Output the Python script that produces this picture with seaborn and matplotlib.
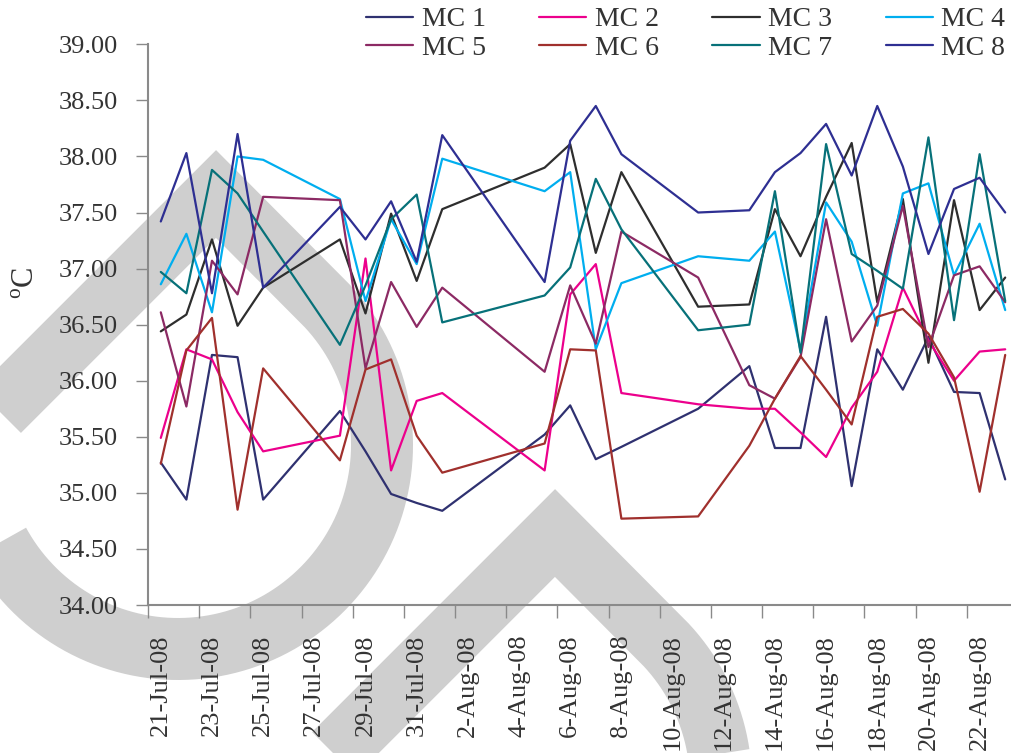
import matplotlib
matplotlib.use("Agg")
import numpy as np
import pandas as pd
import seaborn as sns
import matplotlib.pyplot as plt
import matplotlib.dates as mdates
from matplotlib.lines import Line2D
from matplotlib.ticker import FixedLocator, FixedFormatter, NullFormatter
from datetime import datetime, timedelta

# ---- data -------------------------------------------------------------
dates = ["2008-07-21", "2008-07-22", "2008-07-23", "2008-07-24", "2008-07-25",
         "2008-07-28", "2008-07-29", "2008-07-30", "2008-07-31", "2008-08-01",
         "2008-08-05", "2008-08-06", "2008-08-07", "2008-08-08", "2008-08-11",
         "2008-08-13", "2008-08-14", "2008-08-15", "2008-08-16", "2008-08-17",
         "2008-08-18", "2008-08-19", "2008-08-20", "2008-08-21", "2008-08-22",
         "2008-08-23"]

mc1 = [35.27, 34.94, 36.23, 36.21, 34.94, 35.73, 35.37, 34.99, 34.91, 34.84,
       35.52, 35.78, 35.30, 35.41, 35.75, 36.13, 35.40, 35.40, 36.57, 35.06,
       36.28, 35.92, 36.39, 35.90, 35.89, 35.12]
mc2 = [35.49, 36.28, 36.19, 35.72, 35.37, 35.51, 37.09, 35.20, 35.82, 35.89,
       35.20, 36.77, 37.04, 35.89, 35.79, 35.75, 35.75, 35.54, 35.32, 35.76,
       36.08, 36.83, 36.36, 36.00, 36.26, 36.28]
mc3 = [36.44, 36.59, 37.26, 36.49, 36.83, 37.26, 36.60, 37.49, 36.89, 37.53,
       37.90, 38.11, 37.14, 37.86, 36.66, 36.68, 37.53, 37.11, 37.64, 38.12,
       36.70, 37.62, 36.16, 37.61, 36.63, 36.92]
mc4 = [36.86, 37.31, 36.61, 38.00, 37.97, 37.62, 36.71, 37.44, 37.04, 37.98,
       37.69, 37.86, 36.28, 36.87, 37.11, 37.07, 37.33, 36.27, 37.59, 37.24,
       36.49, 37.67, 37.76, 36.94, 37.40, 36.63]
mc5 = [36.61, 35.77, 37.07, 36.77, 37.64, 37.61, 36.11, 36.88, 36.48, 36.83,
       36.08, 36.85, 36.33, 37.33, 36.92, 35.96, 35.84, 36.21, 37.44, 36.35,
       36.67, 37.56, 36.30, 36.94, 37.02, 36.70]
mc6 = [35.26, 36.27, 36.56, 34.85, 36.11, 35.29, 36.10, 36.19, 35.51, 35.18,
       35.44, 36.28, 36.27, 34.77, 34.79, 35.42, 35.84, 36.22, 35.92, 35.61,
       36.57, 36.64, 36.42, 36.03, 35.01, 36.23]
mc7 = [36.97, 36.78, 37.88, 37.67, 37.33, 36.32, 36.85, 37.44, 37.66, 36.52,
       36.76, 37.01, 37.80, 37.35, 36.45, 36.50, 37.69, 36.25, 38.11, 37.13,
       36.98, 36.82, 38.17, 36.54, 38.02, 36.71]
mc8 = [37.42, 38.03, 36.78, 38.20, 36.83, 37.55, 37.26, 37.60, 37.06, 38.19,
       36.88, 38.14, 38.45, 38.02, 37.50, 37.52, 37.86, 38.03, 38.29, 37.83,
       38.45, 37.91, 37.13, 37.71, 37.81, 37.50]

series_names = ["MC 1", "MC 2", "MC 3", "MC 4", "MC 5", "MC 6", "MC 7", "MC 8"]
series_values = [mc1, mc2, mc3, mc4, mc5, mc6, mc7, mc8]
series_colors = ["#2f3170", "#ec008c", "#2e2e2e", "#00aeef",
                 "#8c2a64", "#a0302d", "#077179", "#2e2f92"]

tick_labels = ["21-Jul-08", "23-Jul-08", "25-Jul-08", "27-Jul-08", "29-Jul-08",
               "31-Jul-08", "2-Aug-08", "4-Aug-08", "6-Aug-08", "8-Aug-08",
               "10-Aug-08", "12-Aug-08", "14-Aug-08", "16-Aug-08", "18-Aug-08",
               "20-Aug-08", "22-Aug-08"]
y_ticks = [34.0, 34.5, 35.0, 35.5, 36.0, 36.5, 37.0, 37.5, 38.0, 38.5, 39.0]

# ---- style ------------------------------------------------------------
sns.set_theme(style="white")
plt.rcParams["font.family"] = ["Liberation Serif", "DejaVu Serif"]
plt.rcParams["mathtext.fontset"] = "custom"
plt.rcParams["mathtext.rm"] = "Liberation Serif"
text_col = "#333333"
axis_col = "#8a8a8a"

W, H = 1011, 753
fig = plt.figure(figsize=(W / 100, H / 100), dpi=100)
fig.patch.set_facecolor("white")

# ---- light grey backdrop emblem (pixel coordinates) -------------------
bg = fig.add_axes([0, 0, 1, 1], zorder=0)
bg.set_xlim(0, W)
bg.set_ylim(H, 0)
bg.axis("off")


def drop_band(apex, radius, arm):
    """Pointed loop: a 90-degree apex whose right side runs tangent
    into a circular arc, plus a straight left arm."""
    ax0, ay0 = apex
    cx = ax0 - 38
    cy = ay0 + 251
    th = np.radians(np.linspace(-45, 188, 240))
    xs = [ax0 - arm, ax0] + list(cx + radius * np.cos(th))
    ys = [ay0 + arm, ay0] + list(cy + radius * np.sin(th))
    bg.plot(xs, ys, color="#cfcfcf", lw=62 * 0.72,
            solid_joinstyle="miter", solid_capstyle="butt")


drop_band((216, 194), 204, 300)
drop_band((555, 533), 204, 320)

# ---- main chart -------------------------------------------------------
x0, x1 = 148, 1018
y_top, y_bot = 44.3, 605
ax = fig.add_axes([x0 / W, (H - y_bot) / H, (x1 - x0) / W, (y_bot - y_top) / H],
                  zorder=1)
ax.patch.set_alpha(0)

frames = []
for name, vals in zip(series_names, series_values):
    frames.append(pd.DataFrame({"Date": pd.to_datetime(dates),
                                "Temp": vals, "Series": name}))
df = pd.concat(frames, ignore_index=True)

sns.lineplot(data=df, x="Date", y="Temp", hue="Series",
             hue_order=series_names, palette=series_colors,
             linewidth=1.6, legend=False, ax=ax)

start = datetime(2008, 7, 20, 12)
end = datetime(2008, 8, 23, 12)
ax.set_xlim(mdates.date2num(start), mdates.date2num(end))
ax.set_ylim(34, 39)

major = [mdates.date2num(start + timedelta(days=2 * k)) for k in range(17)]
minor = [mdates.date2num(datetime(2008, 7, 21) + timedelta(days=2 * k))
         for k in range(len(tick_labels))]
ax.xaxis.set_major_locator(FixedLocator(major))
ax.xaxis.set_major_formatter(NullFormatter())
ax.xaxis.set_minor_locator(FixedLocator(minor))
ax.xaxis.set_minor_formatter(FixedFormatter(tick_labels))
ax.tick_params(axis="x", which="major", direction="out", length=9.5,
               width=1.0, color=axis_col, bottom=True)
ax.tick_params(axis="x", which="minor", length=0, pad=21, labelsize=19,
               labelcolor=text_col, labelrotation=90, bottom=True)

ax.set_yticks(y_ticks)
ax.set_yticklabels([f"{v:.2f}" for v in y_ticks])
ax.tick_params(axis="y", direction="out", length=9, width=1.0, color=axis_col,
               pad=13, labelsize=19, labelcolor=text_col, left=True)

ax.set_xlabel("")
ax.set_ylabel("")
for side in ("top", "right"):
    ax.spines[side].set_visible(False)
for side in ("left", "bottom"):
    ax.spines[side].set_color(axis_col)
    ax.spines[side].set_linewidth(1.5)

fig.text(26 / W, 1 - 283 / H, r"$^{\mathrm{o}}$C", rotation=90,
         ha="center", va="center", fontsize=22, color=text_col)

# ---- legend: 4 columns, filled row by row ------------------------------
handles = [Line2D([0], [0], color=c, lw=1.6) for c in series_colors]
order = [0, 4, 1, 5, 2, 6, 3, 7]
leg = fig.legend([handles[i] for i in order], [series_names[i] for i in order],
                 loc="upper left", bbox_to_anchor=(366 / W, 1 - 7 / H),
                 ncol=4, frameon=False, fontsize=20, handlelength=1.7,
                 handletextpad=0.3, columnspacing=1.93, labelspacing=0.12,
                 borderpad=0, borderaxespad=0)
for t in leg.get_texts():
    t.set_color(text_col)

fig.savefig("out.png", dpi=100, facecolor="white")
